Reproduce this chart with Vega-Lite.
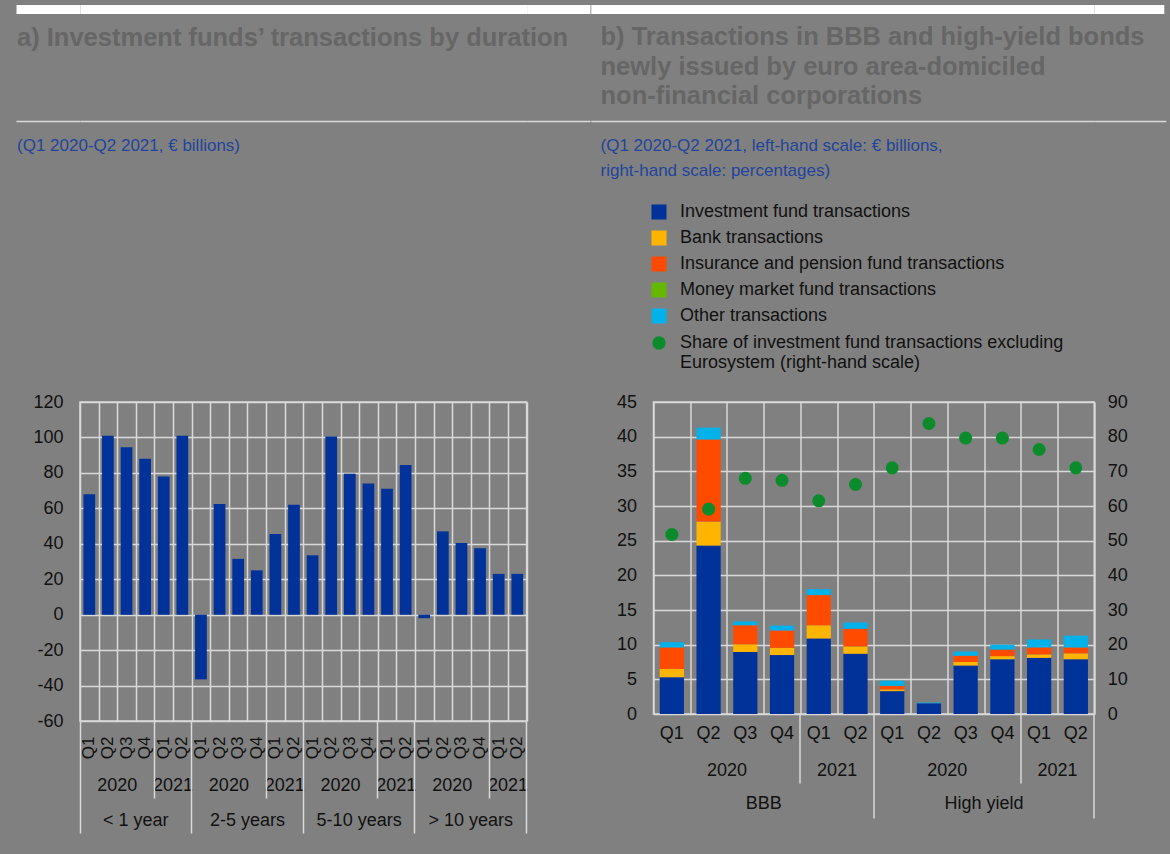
{
  "$schema": "https://vega.github.io/schema/vega-lite/v6.json",
  "background": "#808080",
  "padding": {"left": 10, "top": 3, "right": 0, "bottom": 19},
  "config": {
    "font": "Liberation Sans",
    "view": {"stroke": "#d9d9d9", "strokeWidth": 1.5},
    "axis": {"labelFont": "Liberation Sans", "labelFontSize": 18, "labelColor": "#111111", "domain": false, "ticks": false, "grid": false, "gridColor": "#d9d9d9", "gridWidth": 1.5, "tickColor": "#d9d9d9", "tickWidth": 1.5},
    "legend": {"labelFont": "Liberation Sans", "labelFontSize": 18, "labelColor": "#111111"},
    "title": {"font": "Liberation Sans"}
  },
  "spacing": -10.5,
  "hconcat": [
    {
      "width": 446.6, "height": 319,
      "view": {"stroke": "#d9d9d9", "strokeWidth": 1.5},
      "title": {"text": "a) Investment funds’ transactions by duration", "subtitle": "(Q1 2020-Q2 2021, € billions)", "anchor": "start", "frame": "group", "orient": "top", "offset": -149, "dx": -63, "fontSize": 25.5, "fontWeight": "bold", "color": "#666666", "subtitleFontSize": 17, "subtitleColor": "#23449b", "subtitleFont": "Liberation Sans", "subtitlePadding": 86},
      "data": {"values": [
        {"duration": "< 1 year", "year": "2020", "quarter": "Q1", "key": "< 1 year 2020 Q1", "value": 68},
        {"duration": "< 1 year", "year": "2020", "quarter": "Q2", "key": "< 1 year 2020 Q2", "value": 101},
        {"duration": "< 1 year", "year": "2020", "quarter": "Q3", "key": "< 1 year 2020 Q3", "value": 94.5},
        {"duration": "< 1 year", "year": "2020", "quarter": "Q4", "key": "< 1 year 2020 Q4", "value": 88},
        {"duration": "< 1 year", "year": "2021", "quarter": "Q1", "key": "< 1 year 2021 Q1", "value": 78},
        {"duration": "< 1 year", "year": "2021", "quarter": "Q2", "key": "< 1 year 2021 Q2", "value": 101},
        {"duration": "2-5 years", "year": "2020", "quarter": "Q1", "key": "2-5 years 2020 Q1", "value": -36.5},
        {"duration": "2-5 years", "year": "2020", "quarter": "Q2", "key": "2-5 years 2020 Q2", "value": 62.5},
        {"duration": "2-5 years", "year": "2020", "quarter": "Q3", "key": "2-5 years 2020 Q3", "value": 31.5},
        {"duration": "2-5 years", "year": "2020", "quarter": "Q4", "key": "2-5 years 2020 Q4", "value": 25},
        {"duration": "2-5 years", "year": "2021", "quarter": "Q1", "key": "2-5 years 2021 Q1", "value": 45.5},
        {"duration": "2-5 years", "year": "2021", "quarter": "Q2", "key": "2-5 years 2021 Q2", "value": 62},
        {"duration": "5-10 years", "year": "2020", "quarter": "Q1", "key": "5-10 years 2020 Q1", "value": 33.5},
        {"duration": "5-10 years", "year": "2020", "quarter": "Q2", "key": "5-10 years 2020 Q2", "value": 100.5},
        {"duration": "5-10 years", "year": "2020", "quarter": "Q3", "key": "5-10 years 2020 Q3", "value": 79.5},
        {"duration": "5-10 years", "year": "2020", "quarter": "Q4", "key": "5-10 years 2020 Q4", "value": 74},
        {"duration": "5-10 years", "year": "2021", "quarter": "Q1", "key": "5-10 years 2021 Q1", "value": 71},
        {"duration": "5-10 years", "year": "2021", "quarter": "Q2", "key": "5-10 years 2021 Q2", "value": 84.5},
        {"duration": "> 10 years", "year": "2020", "quarter": "Q1", "key": "> 10 years 2020 Q1", "value": -2},
        {"duration": "> 10 years", "year": "2020", "quarter": "Q2", "key": "> 10 years 2020 Q2", "value": 47},
        {"duration": "> 10 years", "year": "2020", "quarter": "Q3", "key": "> 10 years 2020 Q3", "value": 40.5},
        {"duration": "> 10 years", "year": "2020", "quarter": "Q4", "key": "> 10 years 2020 Q4", "value": 37.5},
        {"duration": "> 10 years", "year": "2021", "quarter": "Q1", "key": "> 10 years 2021 Q1", "value": 23},
        {"duration": "> 10 years", "year": "2021", "quarter": "Q2", "key": "> 10 years 2021 Q2", "value": 23}
      ]},
      "layer": [
        {
          "mark": {"type": "bar", "color": "#003299", "width": {"band": 0.63}},
          "encoding": {
            "x": {"field": "key", "type": "nominal", "sort": null, "scale": {"paddingInner": 0, "paddingOuter": 0}, "axis": {"orient": "bottom", "tickBand": "extent", "grid": true, "labels": false, "title": null}},
            "y": {"field": "value", "type": "quantitative", "scale": {"domain": [-60, 120], "nice": false}, "axis": {"orient": "left", "values": [-60, -40, -20, 0, 20, 40, 60, 80, 100, 120], "labelExpr": "'' + datum.value", "grid": true, "labelPadding": 17, "title": null}}
          }
        },
        {
          "mark": {"type": "point", "opacity": 0},
          "encoding": {
            "x": {"field": "key", "type": "nominal", "sort": null, "axis": null},
            "y": {"field": "value", "type": "quantitative", "axis": {"orient": "left", "values": [120], "tickOffset": -281, "ticks": true, "tickSize": 64, "grid": true, "labels": false, "title": null}}
          }
        },
        {
          "mark": {"type": "point", "opacity": 0},
          "encoding": {
            "x": {"field": "key", "type": "nominal", "sort": null, "axis": null},
            "y": {"field": "value", "type": "quantitative", "axis": {"orient": "right", "values": [120], "tickOffset": -281, "ticks": true, "tickSize": 63.4, "labels": false, "title": null}}
          }
        },
        {
          "mark": {"type": "point", "opacity": 0},
          "encoding": {
            "x": {"field": "key", "type": "nominal", "sort": null, "axis": null},
            "y": {"field": "value", "type": "quantitative", "axis": {"orient": "left", "values": [120], "tickOffset": -393.5, "ticks": true, "tickSize": 64, "tickWidth": 9, "tickColor": "#ffffff", "grid": true, "gridWidth": 9, "gridColor": "#ffffff", "labels": false, "title": null}}
          }
        },
        {
          "mark": {"type": "point", "opacity": 0},
          "encoding": {
            "x": {"field": "key", "type": "nominal", "sort": null, "axis": null},
            "y": {"field": "value", "type": "quantitative", "axis": {"orient": "right", "values": [120], "tickOffset": -393.5, "ticks": true, "tickSize": 63.4, "tickWidth": 9, "tickColor": "#ffffff", "labels": false, "title": null}}
          }
        },
        {
          "mark": {"type": "point", "opacity": 0},
          "encoding": {
            "x": {"field": "key", "type": "nominal", "sort": null, "axis": {"orient": "bottom", "labelAngle": 270, "labelExpr": "slice(datum.value, -2)", "labelPadding": 15, "labelFontSize": 17, "title": null}},
            "y": {"field": "value", "type": "quantitative", "axis": null}
          }
        },
        {
          "mark": {"type": "point", "opacity": 0},
          "encoding": {
            "x": {"field": "key", "type": "nominal", "sort": null, "axis": {"orient": "bottom", "values": ["< 1 year 2020 Q3", "< 1 year 2021 Q2", "2-5 years 2020 Q3", "2-5 years 2021 Q2", "5-10 years 2020 Q3", "5-10 years 2021 Q2", "> 10 years 2020 Q3", "> 10 years 2021 Q2"], "labelOffset": -9.3, "labelAngle": 0, "labelExpr": "slice(datum.value, -7, -3)", "labelPadding": 55, "title": null}},
            "y": {"field": "value", "type": "quantitative", "axis": null}
          }
        },
        {
          "mark": {"type": "point", "opacity": 0},
          "encoding": {
            "x": {"field": "key", "type": "nominal", "sort": null, "axis": {"orient": "bottom", "values": ["< 1 year 2020 Q4", "2-5 years 2020 Q4", "5-10 years 2020 Q4", "> 10 years 2020 Q4"], "labelOffset": -9.3, "labelAngle": 0, "labelExpr": "slice(datum.value, 0, -8)", "labelPadding": 90, "title": null}},
            "y": {"field": "value", "type": "quantitative", "axis": null}
          }
        },
        {
          "mark": {"type": "point", "opacity": 0},
          "encoding": {
            "x": {"field": "key", "type": "nominal", "sort": null, "axis": {"orient": "bottom", "values": ["< 1 year 2020 Q1", "2-5 years 2020 Q1", "5-10 years 2020 Q1", "> 10 years 2020 Q1"], "bandPosition": 0, "ticks": true, "tickSize": 112, "labels": false, "title": null}},
            "y": {"field": "value", "type": "quantitative", "axis": null}
          }
        },
        {
          "mark": {"type": "point", "opacity": 0},
          "encoding": {
            "x": {"field": "key", "type": "nominal", "sort": null, "axis": {"orient": "bottom", "values": ["> 10 years 2021 Q2"], "bandPosition": 1, "ticks": true, "tickSize": 112, "labels": false, "title": null}},
            "y": {"field": "value", "type": "quantitative", "axis": null}
          }
        },
        {
          "mark": {"type": "point", "opacity": 0},
          "encoding": {
            "x": {"field": "key", "type": "nominal", "sort": null, "axis": {"orient": "bottom", "values": ["< 1 year 2021 Q1", "2-5 years 2021 Q1", "5-10 years 2021 Q1", "> 10 years 2021 Q1"], "bandPosition": 0, "ticks": true, "tickSize": 77, "labels": false, "title": null}},
            "y": {"field": "value", "type": "quantitative", "axis": null}
          }
        }
      ],
      "resolve": {"axis": {"x": "independent", "y": "independent"}}
    },
    {
      "width": 440.7, "height": 312,
      "view": {"stroke": "#d9d9d9", "strokeWidth": 1.5},
      "title": {"text": ["b) Transactions in BBB and high-yield bonds", "newly issued by euro area-domiciled", "non-financial corporations"], "subtitle": ["(Q1 2020-Q2 2021, left-hand scale: € billions,", "right-hand scale: percentages)"], "anchor": "start", "frame": "group", "orient": "top", "offset": -174, "dx": -53, "fontSize": 25.5, "lineHeight": 29.3, "fontWeight": "bold", "color": "#666666", "subtitleFontSize": 17, "subtitleLineHeight": 25, "subtitleColor": "#23449b", "subtitleFont": "Liberation Sans", "subtitlePadding": 28},
      "data": {"values": [
        {"bond": "BBB", "year": "2020", "quarter": "Q1", "key": "BBB 2020 Q1", "share": 51.8},
        {"bond": "BBB", "year": "2020", "quarter": "Q2", "key": "BBB 2020 Q2", "share": 59.1},
        {"bond": "BBB", "year": "2020", "quarter": "Q3", "key": "BBB 2020 Q3", "share": 68.0},
        {"bond": "BBB", "year": "2020", "quarter": "Q4", "key": "BBB 2020 Q4", "share": 67.4},
        {"bond": "BBB", "year": "2021", "quarter": "Q1", "key": "BBB 2021 Q1", "share": 61.5},
        {"bond": "BBB", "year": "2021", "quarter": "Q2", "key": "BBB 2021 Q2", "share": 66.2},
        {"bond": "High yield", "year": "2020", "quarter": "Q1", "key": "High yield 2020 Q1", "share": 71.0},
        {"bond": "High yield", "year": "2020", "quarter": "Q2", "key": "High yield 2020 Q2", "share": 83.8},
        {"bond": "High yield", "year": "2020", "quarter": "Q3", "key": "High yield 2020 Q3", "share": 79.6},
        {"bond": "High yield", "year": "2020", "quarter": "Q4", "key": "High yield 2020 Q4", "share": 79.6},
        {"bond": "High yield", "year": "2021", "quarter": "Q1", "key": "High yield 2021 Q1", "share": 76.3},
        {"bond": "High yield", "year": "2021", "quarter": "Q2", "key": "High yield 2021 Q2", "share": 71.0}
      ]},
      "layer": [
        {
          "data": {"values": [
            {"key": "BBB 2020 Q1", "series": "Investment fund transactions", "ord": 1, "value": 5.3},
            {"key": "BBB 2020 Q1", "series": "Bank transactions", "ord": 2, "value": 1.2},
            {"key": "BBB 2020 Q1", "series": "Insurance and pension fund transactions", "ord": 3, "value": 3.1},
            {"key": "BBB 2020 Q1", "series": "Other transactions", "ord": 5, "value": 0.75},
            {"key": "BBB 2020 Q2", "series": "Investment fund transactions", "ord": 1, "value": 24.3},
            {"key": "BBB 2020 Q2", "series": "Bank transactions", "ord": 2, "value": 3.45},
            {"key": "BBB 2020 Q2", "series": "Insurance and pension fund transactions", "ord": 3, "value": 11.85},
            {"key": "BBB 2020 Q2", "series": "Other transactions", "ord": 5, "value": 1.7},
            {"key": "BBB 2020 Q3", "series": "Investment fund transactions", "ord": 1, "value": 8.95},
            {"key": "BBB 2020 Q3", "series": "Bank transactions", "ord": 2, "value": 1.1},
            {"key": "BBB 2020 Q3", "series": "Insurance and pension fund transactions", "ord": 3, "value": 2.75},
            {"key": "BBB 2020 Q3", "series": "Other transactions", "ord": 5, "value": 0.55},
            {"key": "BBB 2020 Q4", "series": "Investment fund transactions", "ord": 1, "value": 8.5},
            {"key": "BBB 2020 Q4", "series": "Bank transactions", "ord": 2, "value": 1.05},
            {"key": "BBB 2020 Q4", "series": "Insurance and pension fund transactions", "ord": 3, "value": 2.5},
            {"key": "BBB 2020 Q4", "series": "Other transactions", "ord": 5, "value": 0.7},
            {"key": "BBB 2021 Q1", "series": "Investment fund transactions", "ord": 1, "value": 10.9},
            {"key": "BBB 2021 Q1", "series": "Bank transactions", "ord": 2, "value": 1.9},
            {"key": "BBB 2021 Q1", "series": "Insurance and pension fund transactions", "ord": 3, "value": 4.35},
            {"key": "BBB 2021 Q1", "series": "Other transactions", "ord": 5, "value": 0.85},
            {"key": "BBB 2021 Q2", "series": "Investment fund transactions", "ord": 1, "value": 8.7},
            {"key": "BBB 2021 Q2", "series": "Bank transactions", "ord": 2, "value": 1.05},
            {"key": "BBB 2021 Q2", "series": "Insurance and pension fund transactions", "ord": 3, "value": 2.55},
            {"key": "BBB 2021 Q2", "series": "Other transactions", "ord": 5, "value": 0.9},
            {"key": "High yield 2020 Q1", "series": "Investment fund transactions", "ord": 1, "value": 3.3},
            {"key": "High yield 2020 Q1", "series": "Bank transactions", "ord": 2, "value": 0.25},
            {"key": "High yield 2020 Q1", "series": "Insurance and pension fund transactions", "ord": 3, "value": 0.5},
            {"key": "High yield 2020 Q1", "series": "Other transactions", "ord": 5, "value": 0.75},
            {"key": "High yield 2020 Q2", "series": "Investment fund transactions", "ord": 1, "value": 1.55},
            {"key": "High yield 2020 Q2", "series": "Other transactions", "ord": 5, "value": 0.1},
            {"key": "High yield 2020 Q3", "series": "Investment fund transactions", "ord": 1, "value": 7.0},
            {"key": "High yield 2020 Q3", "series": "Bank transactions", "ord": 2, "value": 0.5},
            {"key": "High yield 2020 Q3", "series": "Insurance and pension fund transactions", "ord": 3, "value": 0.9},
            {"key": "High yield 2020 Q3", "series": "Other transactions", "ord": 5, "value": 0.6},
            {"key": "High yield 2020 Q4", "series": "Investment fund transactions", "ord": 1, "value": 7.9},
            {"key": "High yield 2020 Q4", "series": "Bank transactions", "ord": 2, "value": 0.45},
            {"key": "High yield 2020 Q4", "series": "Insurance and pension fund transactions", "ord": 3, "value": 0.95},
            {"key": "High yield 2020 Q4", "series": "Other transactions", "ord": 5, "value": 0.7},
            {"key": "High yield 2021 Q1", "series": "Investment fund transactions", "ord": 1, "value": 8.1},
            {"key": "High yield 2021 Q1", "series": "Bank transactions", "ord": 2, "value": 0.5},
            {"key": "High yield 2021 Q1", "series": "Insurance and pension fund transactions", "ord": 3, "value": 1.0},
            {"key": "High yield 2021 Q1", "series": "Other transactions", "ord": 5, "value": 1.15},
            {"key": "High yield 2021 Q2", "series": "Investment fund transactions", "ord": 1, "value": 7.9},
            {"key": "High yield 2021 Q2", "series": "Bank transactions", "ord": 2, "value": 0.85},
            {"key": "High yield 2021 Q2", "series": "Insurance and pension fund transactions", "ord": 3, "value": 0.85},
            {"key": "High yield 2021 Q2", "series": "Other transactions", "ord": 5, "value": 1.7}
          ]},
          "mark": {"type": "bar", "width": {"band": 0.66}},
          "encoding": {
            "x": {"field": "key", "type": "nominal", "sort": null, "scale": {"domain": ["BBB 2020 Q1", "BBB 2020 Q2", "BBB 2020 Q3", "BBB 2020 Q4", "BBB 2021 Q1", "BBB 2021 Q2", "High yield 2020 Q1", "High yield 2020 Q2", "High yield 2020 Q3", "High yield 2020 Q4", "High yield 2021 Q1", "High yield 2021 Q2"], "paddingInner": 0, "paddingOuter": 0}, "axis": {"orient": "bottom", "tickBand": "extent", "grid": true, "labels": false, "title": null}},
            "y": {"field": "value", "type": "quantitative", "stack": "zero", "scale": {"domain": [0, 45], "nice": false}, "axis": {"orient": "left", "values": [0, 5, 10, 15, 20, 25, 30, 35, 40, 45], "grid": true, "labelPadding": 17, "title": null}},
            "color": {"field": "series", "type": "nominal", "scale": {"domain": ["Investment fund transactions", "Bank transactions", "Insurance and pension fund transactions", "Money market fund transactions", "Other transactions"], "range": ["#003299", "#ffb400", "#ff4b00", "#65b800", "#00b1ea"]}, "legend": {"orient": "none", "legendX": -3.5, "legendY": -199, "title": null, "symbolType": "square", "symbolSize": 225, "symbolStrokeWidth": 0, "labelFontSize": 18, "labelOffset": 12, "rowPadding": 8, "padding": 0, "labelLimit": 800}},
            "order": {"field": "ord", "type": "quantitative", "sort": "ascending"}
          }
        },
        {
          "mark": {"type": "circle", "size": 170, "opacity": 1},
          "encoding": {
            "x": {"field": "key", "type": "nominal", "sort": null, "axis": null},
            "y": {"field": "share", "type": "quantitative", "scale": {"domain": [0, 90], "nice": false}, "axis": {"orient": "right", "values": [0, 10, 20, 30, 40, 50, 60, 70, 80, 90], "labelPadding": 13, "title": null}},
            "color": {"datum": "Share of investment fund transactions excluding Eurosystem (right-hand scale)", "type": "nominal", "scale": {"range": ["#0b8b2b"]}, "legend": {"orient": "none", "legendX": -3.5, "legendY": -68, "title": null, "symbolType": "circle", "symbolSize": 180, "symbolStrokeWidth": 0, "labelFontSize": 18, "labelOffset": 12, "padding": 0, "labelLimit": 800, "labelExpr": "[slice(datum.label, 0, 47), slice(datum.label, 48)]"}}
          }
        },
        {
          "mark": {"type": "point", "opacity": 0},
          "encoding": {
            "x": {"field": "key", "type": "nominal", "sort": null, "axis": null},
            "y": {"field": "share", "type": "quantitative", "scale": {"domain": [0, 90], "nice": false}, "axis": {"orient": "left", "values": [90], "tickOffset": -281, "ticks": true, "tickSize": 62.7, "grid": true, "labels": false, "title": null}}
          }
        },
        {
          "mark": {"type": "point", "opacity": 0},
          "encoding": {
            "x": {"field": "key", "type": "nominal", "sort": null, "axis": null},
            "y": {"field": "share", "type": "quantitative", "scale": {"domain": [0, 90], "nice": false}, "axis": {"orient": "right", "values": [90], "tickOffset": -281, "ticks": true, "tickSize": 71.6, "labels": false, "title": null}}
          }
        },
        {
          "mark": {"type": "point", "opacity": 0},
          "encoding": {
            "x": {"field": "key", "type": "nominal", "sort": null, "axis": null},
            "y": {"field": "share", "type": "quantitative", "scale": {"domain": [0, 90], "nice": false}, "axis": {"orient": "left", "values": [90], "tickOffset": -393.5, "ticks": true, "tickSize": 62.7, "tickWidth": 9, "tickColor": "#ffffff", "grid": true, "gridWidth": 9, "gridColor": "#ffffff", "labels": false, "title": null}}
          }
        },
        {
          "mark": {"type": "point", "opacity": 0},
          "encoding": {
            "x": {"field": "key", "type": "nominal", "sort": null, "axis": null},
            "y": {"field": "share", "type": "quantitative", "scale": {"domain": [0, 90], "nice": false}, "axis": {"orient": "right", "values": [90], "tickOffset": -393.5, "ticks": true, "tickSize": 69.6, "tickWidth": 9, "tickColor": "#ffffff", "labels": false, "title": null}}
          }
        },
        {
          "mark": {"type": "point", "opacity": 0},
          "encoding": {
            "x": {"field": "key", "type": "nominal", "sort": null, "axis": {"orient": "bottom", "labelAngle": 0, "labelExpr": "slice(datum.value, -2)", "labelPadding": 10, "title": null}},
            "y": {"field": "share", "type": "quantitative", "scale": {"domain": [0, 90], "nice": false}, "axis": null}
          }
        },
        {
          "mark": {"type": "point", "opacity": 0},
          "encoding": {
            "x": {"field": "key", "type": "nominal", "sort": null, "axis": {"orient": "bottom", "values": ["BBB 2020 Q3", "BBB 2021 Q2", "High yield 2020 Q3", "High yield 2021 Q2"], "labelOffset": -18.36, "labelAngle": 0, "labelExpr": "slice(datum.value, -7, -3)", "labelPadding": 47, "title": null}},
            "y": {"field": "share", "type": "quantitative", "scale": {"domain": [0, 90], "nice": false}, "axis": null}
          }
        },
        {
          "mark": {"type": "point", "opacity": 0},
          "encoding": {
            "x": {"field": "key", "type": "nominal", "sort": null, "axis": {"orient": "bottom", "values": ["BBB 2020 Q4", "High yield 2020 Q4"], "labelOffset": -18.36, "labelAngle": 0, "labelExpr": "slice(datum.value, 0, -8)", "labelPadding": 80, "title": null}},
            "y": {"field": "share", "type": "quantitative", "scale": {"domain": [0, 90], "nice": false}, "axis": null}
          }
        },
        {
          "mark": {"type": "point", "opacity": 0},
          "encoding": {
            "x": {"field": "key", "type": "nominal", "sort": null, "axis": {"orient": "bottom", "values": ["BBB 2020 Q1", "High yield 2020 Q1"], "bandPosition": 0, "ticks": true, "tickSize": 104, "labels": false, "title": null}},
            "y": {"field": "share", "type": "quantitative", "scale": {"domain": [0, 90], "nice": false}, "axis": null}
          }
        },
        {
          "mark": {"type": "point", "opacity": 0},
          "encoding": {
            "x": {"field": "key", "type": "nominal", "sort": null, "axis": {"orient": "bottom", "values": ["High yield 2021 Q2"], "bandPosition": 1, "ticks": true, "tickSize": 104, "labels": false, "title": null}},
            "y": {"field": "share", "type": "quantitative", "scale": {"domain": [0, 90], "nice": false}, "axis": null}
          }
        },
        {
          "mark": {"type": "point", "opacity": 0},
          "encoding": {
            "x": {"field": "key", "type": "nominal", "sort": null, "axis": {"orient": "bottom", "values": ["BBB 2021 Q1", "High yield 2021 Q1"], "bandPosition": 0, "ticks": true, "tickSize": 69, "labels": false, "title": null}},
            "y": {"field": "share", "type": "quantitative", "scale": {"domain": [0, 90], "nice": false}, "axis": null}
          }
        },
        {
          "mark": {"type": "point", "opacity": 0},
          "encoding": {
            "x": {"field": "key", "type": "nominal", "sort": null, "axis": {"orient": "bottom", "values": ["BBB 2020 Q1"], "bandPosition": 0, "tickOffset": -62.7, "ticks": true, "tickSize": 141, "grid": true, "labels": false, "title": null}},
            "y": {"field": "share", "type": "quantitative", "scale": {"domain": [0, 90], "nice": false}, "axis": null}
          }
        },
        {
          "mark": {"type": "point", "opacity": 0},
          "encoding": {
            "x": {"field": "key", "type": "nominal", "sort": null, "axis": {"orient": "top", "values": ["BBB 2020 Q1"], "bandPosition": 0, "tickOffset": -62.7, "ticks": true, "tickSize": 389, "labels": false, "title": null}},
            "y": {"field": "share", "type": "quantitative", "scale": {"domain": [0, 90], "nice": false}, "axis": null}
          }
        }
      ],
      "resolve": {"scale": {"y": "independent", "color": "independent"}, "axis": {"x": "independent", "y": "independent"}}
    }
  ]
}
